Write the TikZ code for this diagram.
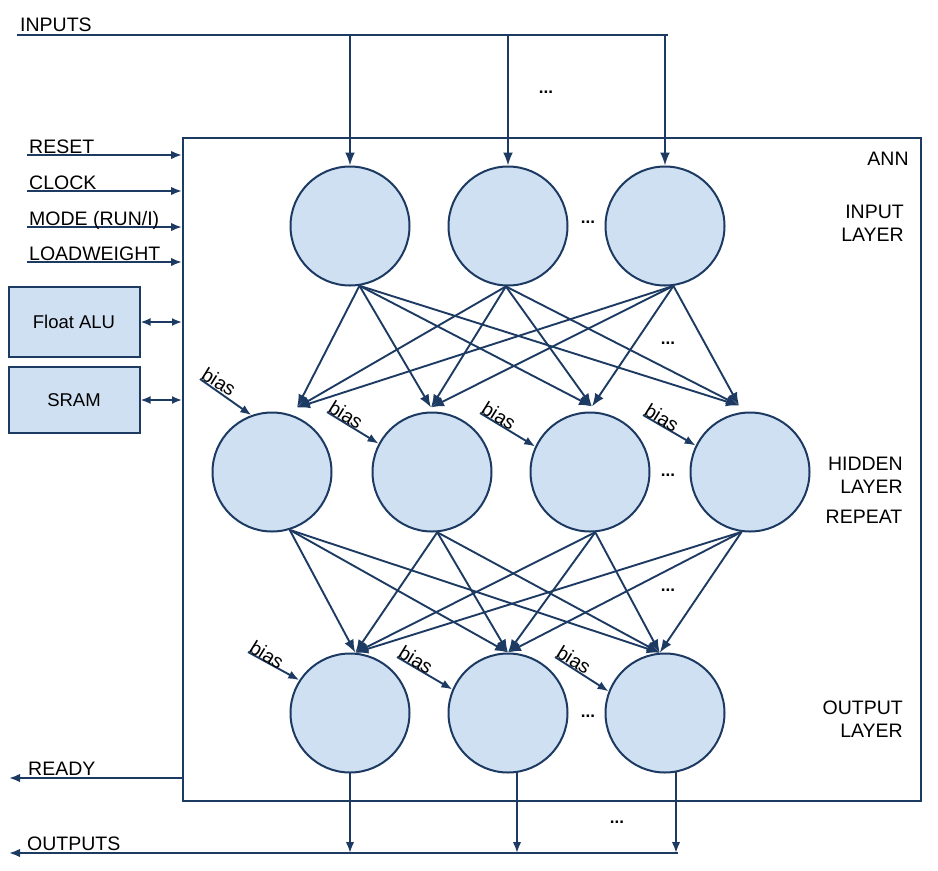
\documentclass[tikz,border=0pt]{standalone}
\usepackage{fontspec}
\setmainfont{Liberation Sans}
\usetikzlibrary{arrows.meta,calc}
\definecolor{ln}{RGB}{28,58,98}
\definecolor{fl}{RGB}{207,224,242}
\begin{document}
\begin{tikzpicture}[x=1pt,y=-1pt,
  lbl/.style={font=\fontsize{19.5}{23}\selectfont, inner sep=0pt},
  neuron/.style={circle, draw=ln, fill=fl, line width=2pt, minimum size=119pt, inner sep=0pt},
  arr/.style={draw=ln, line width=1.9pt, -{Latex[length=13pt,width=10pt]}},
  sarr/.style={draw=ln, line width=1.9pt, -{Latex[length=11pt,width=8.5pt]}},
  darr/.style={draw=ln, line width=1.9pt, {Latex[length=10pt,width=8pt]}-{Latex[length=10pt,width=8pt]}},
  dots/.style={font=\fontsize{17}{17}\selectfont\bfseries, inner sep=0pt},
  biaslbl/.style={font=\fontsize{19.5}{20}\selectfont, rotate=-32, anchor=base west, inner sep=0pt},
  sidebox/.style={draw=ln, fill=fl, line width=2pt, minimum width=131pt, minimum height=70pt, inner sep=0pt, font=\fontsize{18.5}{20}\selectfont}
]
\useasboundingbox (0,0) rectangle (938,871);

% ANN box
\node[draw=ln, line width=2pt, minimum width=738pt, minimum height=663pt, inner sep=0pt, anchor=north west] (ann) at (182,137) {};
\node[lbl] (annl) at (888,159) {ANN};
\node[lbl, align=right, anchor=east] (inl) at (904,223) {INPUT\\LAYER};
\node[lbl, align=right, anchor=east] (hidl) at (903,475) {HIDDEN\\LAYER};
\node[lbl] (repl) at (864,517) {REPEAT};
\node[lbl, align=right, anchor=east] (outl) at (903,719) {OUTPUT\\LAYER};

% neurons
\node[neuron] (i1) at (350,226) {};
\node[neuron] (i2) at (508,226) {};
\node[neuron] (i3) at (665,226) {};
\node[neuron] (h1) at (272,472) {};
\node[neuron] (h2) at (432,472) {};
\node[neuron] (h3) at (590,472) {};
\node[neuron] (h4) at (750,472) {};
\node[neuron] (o1) at (350,713) {};
\node[neuron] (o2) at (508,713) {};
\node[neuron] (o3) at (665,713) {};

% inputs bar
\coordinate (inL) at (17,35);
\coordinate (inR) at (668,35);
\draw[draw=ln, line width=1.9pt] (inL) -- (inR);
\node[lbl, anchor=base west] (inputs) at (20,31) {INPUTS};
\foreach \n in {i1,i2,i3} \draw[arr] (\n.north |- inR) -- (\n.north);
\node[dots] (d1) at (546,92) {...};
\node[dots] (d2) at (588,222) {...};

% control signals
\foreach \y/\t/\nm in {155/{RESET}/rs,191/{CLOCK}/ck,227/{MODE (RUN/I)}/md,262/{LOADWEIGHT}/lw} {
  \coordinate (\nm) at (27,\y);
  \draw[sarr] (\nm) -- (\nm -| ann.west);
  \node[lbl, anchor=base west] (\nm t) at (29,\y-2) {\t};
}

% side boxes
\node[sidebox] (alu) at (74,322) {Float ALU};
\node[sidebox, minimum height=66pt] (sram) at (74,400) {SRAM};
\draw[darr] (alu.east) -- (alu.east -| ann.west);
\draw[darr] (sram.east) -- (sram.east -| ann.west);

% ready
\coordinate (rdy) at (9,778);
\draw[sarr] (rdy -| ann.west) -- (rdy);
\node[lbl, anchor=base west] (rdyt) at (28,775) {READY};

% outputs
\coordinate (outL) at (9,853);
\coordinate (outR) at (678,853);
\draw[sarr] (outR) -- (outL);
\node[lbl, anchor=base west] (outt) at (27,850) {OUTPUTS};
\coordinate (o1b) at ($(o1.south)+(0,-1)$);
\coordinate (o2b) at ($(o2.south)+(9,-2)$);
\coordinate (o3b) at ($(o3.south)+(11,-2)$);
\foreach \n in {o1b,o2b,o3b} \draw[sarr] (\n) -- (\n |- outR);
\node[dots] (d7) at (617,822) {...};

% input -> hidden
\coordinate (i1s) at (i1.-81);
\coordinate (i2s) at (i2.-92);
\coordinate (i3s) at (i3.-82);
\coordinate (h1t) at ($(h1.north)+(25,-4)$);
\coordinate (h2t) at ($(h2.north)+(-1,-4)$);
\coordinate (h3t) at ($(h3.north)+(2,-5)$);
\coordinate (h4t) at ($(h4.north)+(-11,-6)$);
\foreach \s in {i1s,i2s,i3s}
  \foreach \t in {h1t,h2t,h3t,h4t}
    \draw[arr] (\s) -- (\t);
\node[dots] (d3) at (668,343) {...};
\node[dots] (d4) at (668,475) {...};

% hidden -> output
\coordinate (h1s) at (h1.-73);
\coordinate (h2s) at (h2.-85);
\coordinate (h3s) at (h3.-85);
\coordinate (h4s) at (h4.-98);
\coordinate (o1t) at (o1.85);
\coordinate (o2t) at (o2.90);
\coordinate (o3t) at (o3.95);
\foreach \s in {h1s,h2s,h3s,h4s}
  \foreach \t in {o1t,o2t,o3t}
    \draw[arr] (\s) -- (\t);
\node[dots] (d5) at (668,590) {...};
\node[dots] (d6) at (588,716) {...};

% bias
\foreach \x/\y/\n/\a in {200/379/h1/110, 327/412/h2/152, 480/413/h3/155, 643/415/h4/154,
                         248/652/o1/147, 397/657/o2/157, 555/657/o3/159} {
  \coordinate (b\n) at (\x,\y);
  \draw[sarr] (b\n) -- (\n.\a);
  \node[biaslbl] (b\n t) at ($(b\n)+(0,-1)$) {bias};
}
\end{tikzpicture}
\end{document}
